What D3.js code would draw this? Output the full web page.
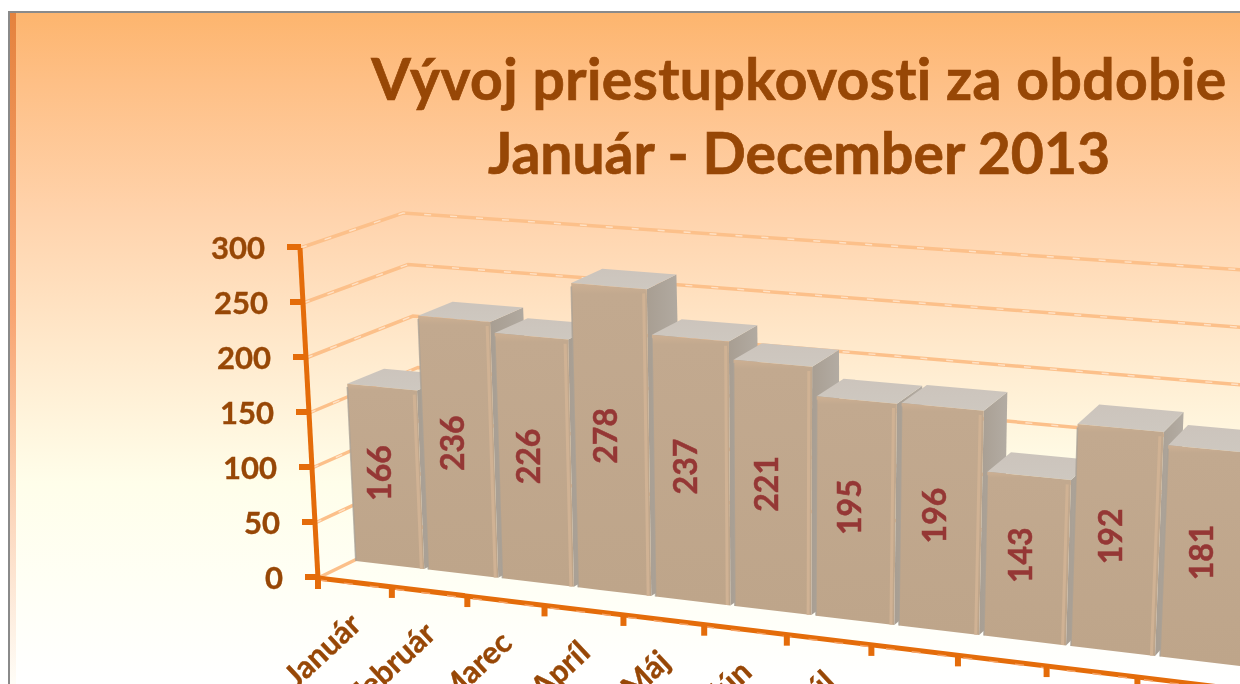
<!DOCTYPE html>
<html lang="sk"><head><meta charset="utf-8">
<style>html,body{margin:0;padding:0;background:#fff;overflow:hidden}svg{display:block}text{font-family:Lato,"Noto Sans",sans-serif;font-weight:700;font-variant-ligatures:none}</style>
<script src="https://cdn.jsdelivr.net/npm/d3@7/dist/d3.min.js"></script></head><body>
<script>
const titleLines = ["Vývoj priestupkovosti za obdobie", "Január - December 2013"];
const categories = ["Január","Február","Marec","Apríl","Máj","Jún","Júl","August","September","Október","November"];
const values = [166,236,226,278,237,221,195,196,143,192,181];
const valueTicks = [0,50,100,150,200,250,300];
const gridValues = [50,100,150,200,250,300];

const W = 1240, H = 684;
const svg = d3.select("body").append("svg").attr("width",W).attr("height",H);
const defs = svg.append("defs");
function grad(id, stops, horizontal){
  const g = defs.append("linearGradient").attr("id",id).attr("x1",0).attr("y1",0)
    .attr("x2",horizontal?1:0).attr("y2",horizontal?0:1);
  stops.forEach(s=>g.append("stop").attr("offset",s[0]).attr("stop-color",s[1]));
}
grad("bg",[[0,"#fdb56e"],[0.1,"#febf85"],[0.3,"#ffd3ac"],[0.5,"#ffe9cc"],[0.7,"#fffeea"],[0.85,"#fffff5"],[1,"#ffffff"]]);
grad("strip",[[0,"#e07a35"],[0.45,"#f79a63"],[1,"#fffdf6"]]);
grad("front",[[0,"#cdb093"],[0.035,"#c2a98f"],[1,"#bea58a"]]);
grad("top",[[0,"#ccc4bc"],[1,"#cec8c0"]]);
grad("side",[[0,"#a89e92"],[1,"#b3aca3"]],true);
defs.append("filter").attr("id","soft").append("feGaussianBlur").attr("stdDeviation",0.55);

// frame
const frameX = 8, frameY = 11;
svg.append("rect").attr("x",frameX).attr("y",frameY).attr("width",W-frameX).attr("height",H-frameY).attr("fill","#8a8a8a");
svg.append("rect").attr("x",frameX+2).attr("y",frameY+2).attr("width",W-frameX-2).attr("height",H-frameY-2).attr("fill","url(#bg)");
svg.append("rect").attr("x",frameX+2).attr("y",frameY+2).attr("width",6).attr("height",H-frameY-2).attr("fill","url(#strip)").attr("opacity",0.85);

// scales
const yScale = d3.scaleLinear().domain([0,300]).range([0,1]);
const persp = d3.scaleLinear().domain([0,10]).range([0,1]);
const sOf = t => { const xt=(318+69.6*t)/(1-0.01085*t); return persp((xt-318)/81.9); };
const lerp = (a,b,k)=>a+(b-a)*k;
const L = {fb:[318,578],ft:[300,248],bb:[433,522],bt:[403,213]};
const R = {fb:[1137,677],ft:[1143,321],bb:[1196,610],bt:[1201,267]};
function corner(Q,d,v,i){ return lerp(lerp(Q.fb[i],Q.bb[i],d),lerp(Q.ft[i],Q.bt[i],d),v); }
function project(t,d,val){
  const v=yScale(val), s=sOf(t);
  return [lerp(corner(L,d,v,0),corner(R,d,v,0),s), lerp(corner(L,d,v,1),corner(R,d,v,1),s)];
}
function barProject(t,d,val){
  const a=project(t,d,val), s=sOf(t), v=yScale(val);
  return [a[0]+v*(6+2*s)+2*s, a[1]+2*(1-s)*v];
}
const line = d3.line();
const END_T = 12;

// gridlines
const gridG = svg.append("g");
gridG.selectAll("path").data(gridValues.concat([0])).join("path")
  .attr("d",v=> v===0 ? line([project(0,0,0),project(0,1,0)]) : line([project(0,0,v),project(0,1,v),project(END_T,1,v)]))
  .attr("fill","none").attr("stroke","#fcc08a").attr("stroke-width",3.5).attr("stroke-linejoin","miter");
gridG.selectAll("path.h").data(gridValues).join("path").attr("class","h")
  .attr("d",v=>line([project(0,0,v),project(0,1,v),project(END_T,1,v)]))
  .attr("fill","none").attr("stroke","#ffe6cf").attr("stroke-width",1.4).attr("stroke-dasharray","7 19").attr("opacity",.85);

// bars
const band = d3.scaleBand().domain(categories).range([0,categories.length]).paddingInner(0.055).paddingOuter(0.03);
const dFront=0.31, dBack=0.65, barK=0.995;
const barG = svg.append("g").attr("filter","url(#soft)").selectAll("g").data(categories.map((c,i)=>({c,v:values[i]}))).join("g");
const labelG = svg.append("g");
const poly = pts=>line(pts)+"Z";
barG.each(function(b){
  const g=d3.select(this), t0=band(b.c), t1=t0+band.bandwidth(), top=b.v*barK;
  const p=barProject;
  g.append("path").attr("d",poly([p(t1,dFront,top),p(t1,dBack,top),p(t1,dBack,0),p(t1,dFront,0)])).attr("fill","url(#side)");
  g.append("path").attr("d",poly([p(t0,dFront,top),p(t0,dBack,top),p(t1,dBack,top),p(t1,dFront,top)])).attr("fill","url(#top)");
  g.append("path").attr("d",poly([p(t0,dFront,top),p(t1,dFront,top),p(t1,dFront,0),p(t0,dFront,0)])).attr("fill","url(#front)");
  g.append("path").attr("d",line([p(t1-0.04,dFront,top-4),p(t1-0.04,dFront,0)])).attr("stroke","#d0b294").attr("stroke-width",3).attr("fill","none");
  g.append("path").attr("d",line([p(t0,dFront,top-3),p(t0,dFront,0)])).attr("stroke","#a8a095").attr("stroke-width",1.6).attr("fill","none").attr("opacity",.75);
  const c=p((t0+t1)/2,dFront,top/2);
  labelG.append("text").attr("transform",`translate(${c[0]-7},${c[1]-3}) rotate(-90)`)
    .attr("text-anchor","middle").attr("dominant-baseline","central")
    .attr("fill","#953735").attr("stroke","#953735").attr("stroke-width",0.5).attr("font-size",32).text(b.v);
});

// axes
const axisColor="#e46c0a";
svg.append("path").attr("d",line([project(0,0,0),project(0,0,300)])).attr("stroke",axisColor).attr("stroke-width",5).attr("fill","none");
svg.append("path").attr("d",line([project(0,0,0),project(END_T,0,0)])).attr("stroke",axisColor).attr("stroke-width",5).attr("fill","none");
svg.append("path").attr("d",line([project(0,0,0),project(END_T,0,0)])).attr("stroke","#f6a468").attr("stroke-width",1.5).attr("stroke-dasharray","9 17").attr("transform","translate(0,2)").attr("fill","none");
svg.append("g").selectAll("path").data(valueTicks).join("path")
  .attr("d",v=>{const a=project(0,0,v);return line([[a[0]-13,a[1]-1],[a[0]+1,a[1]-1]]);})
  .attr("stroke",axisColor).attr("stroke-width",6);
svg.append("g").selectAll("text").data(valueTicks).join("text")
  .attr("x",v=>project(0,0,v)[0]-35).attr("y",v=>project(0,0,v)[1]).attr("dy","0.34em")
  .attr("text-anchor","end").attr("fill","#974706").attr("stroke","#974706").attr("stroke-width",0.4).attr("font-size",31).text(d=>d);
const tickTs=d3.range(0,END_T+1);
svg.append("g").selectAll("path").data(tickTs).join("path")
  .attr("d",t=>{const a=project(t,0,0);return line([[a[0],a[1]],[a[0],a[1]+11]]);})
  .attr("stroke",axisColor).attr("stroke-width",6);
// only categories whose label reaches into the picture are shown, as in the reference
const labelEnd=i=>{const a=project(i+0.5,0,0);return [a[0]+1,a[1]+37];};
svg.append("g").selectAll("text").data(categories.filter((c,i)=>labelEnd(i)[1]<H)).join("text")
  .attr("transform",(c,i)=>{const a=labelEnd(i);return `translate(${a[0]},${a[1]}) rotate(-43)`;})
  .attr("text-anchor","end").attr("dy","0.34em").attr("fill","#974706").attr("stroke","#974706").attr("stroke-width",0.4).attr("font-size",31).text(d=>d);

// title
svg.append("g").selectAll("text").data(titleLines).join("text")
  .attr("x",799).attr("y",(d,i)=>100+i*74).attr("text-anchor","middle")
  .attr("letter-spacing",(d,i)=>i===0?0.43:0)
  .attr("fill","#974706").attr("font-size",57).attr("stroke","#974706").attr("stroke-width",0.7).text(d=>d);
</script></body></html>
